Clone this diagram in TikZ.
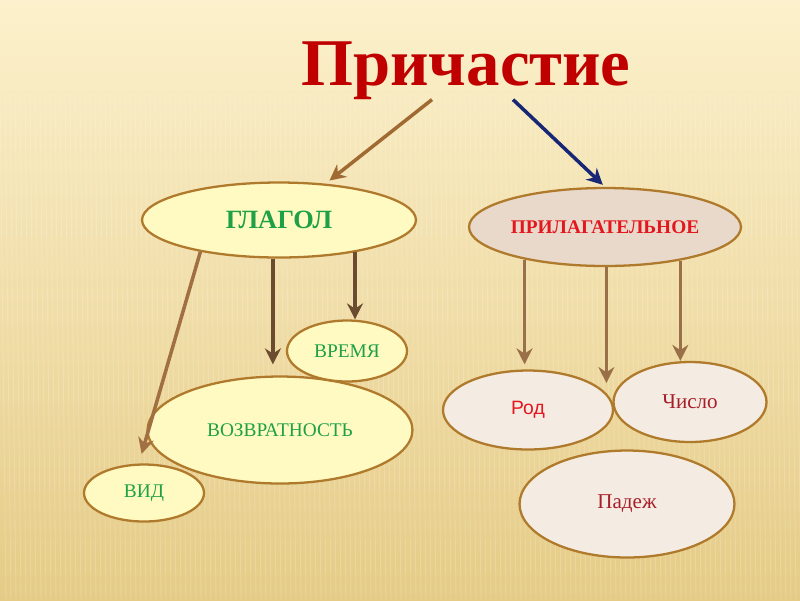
\documentclass[tikz,border=0pt]{standalone}
\usepackage{fontspec}
\setmainfont{Liberation Serif}
\newfontfamily\arialfont{Liberation Sans}
\usepackage{tikz}
\usetikzlibrary{positioning,arrows.meta,shapes.geometric,calc}
\usepackage{xcolor}
\definecolor{bgtop}{RGB}{252,241,204}
\definecolor{bgmid}{RGB}{246,229,180}
\definecolor{bgbot}{RGB}{229,203,134}
\definecolor{rim}{RGB}{176,122,44}
\definecolor{verbfill}{RGB}{255,250,194}
\definecolor{adjfill}{RGB}{232,217,202}
\definecolor{featfill}{RGB}{244,236,226}
\definecolor{verbgreen}{RGB}{30,160,70}
\definecolor{adjred}{RGB}{228,22,30}
\definecolor{darkred}{RGB}{168,30,40}
\definecolor{titlered}{RGB}{192,0,0}
\definecolor{brownA}{RGB}{160,106,50}
\definecolor{brownB}{RGB}{108,76,46}
\definecolor{brownC}{RGB}{160,112,66}
\definecolor{brownD}{RGB}{154,112,72}
\definecolor{navy}{RGB}{24,38,118}

\begin{document}
\begin{tikzpicture}[
    x=0.02cm, y=-0.02cm,
    oval/.style={ellipse, draw=rim, line width=1.3pt, inner sep=0pt, align=center},
    verb/.style={oval, fill=verbfill, text=verbgreen, font=\fontsize{11}{13}\selectfont},
    feat/.style={oval, fill=featfill, text=darkred, font=\fontsize{12}{14}\selectfont},
    link/.style={-{Stealth[length=3.2mm, width=3.2mm]}, line width=2pt}
]

% Background
\useasboundingbox (0,0) rectangle (800,600);
\shade[top color=bgtop, middle color=bgmid, bottom color=bgbot] (0,0) rectangle (800,600);
\foreach \sx in {0,5,...,800}
    \draw[white, opacity=0.18, line width=0.5pt] (\sx,95) -- (\sx+6,600);

% Title
\node[font=\bfseries\fontsize{38}{44}\selectfont, text=titlered, inner sep=0pt, anchor=base] (prich) at (466,85) {Причастие};

% Verb side
\node[oval, fill=verbfill, text=verbgreen, font=\bfseries\fontsize{15}{17}\selectfont, minimum width=5.48cm, minimum height=1.5cm] (glagol) at (279,220) {ГЛАГОЛ};
\node[verb, minimum width=5.3cm, minimum height=2.14cm] (vozvr) at (280,430) {ВОЗВРАТНОСТЬ};
\node[verb, minimum width=2.4cm, minimum height=1.22cm] (vremya) at (347,351) {ВРЕМЯ};
\node[verb, minimum width=2.4cm, minimum height=1.14cm] (vid) at (144,493) {ВИД};

% Adjective side
\node[oval, fill=adjfill, text=adjred, font=\bfseries\fontsize{11}{13}\selectfont, minimum width=5.44cm, minimum height=1.56cm] (prilag) at (605,227) {ПРИЛАГАТЕЛЬНОЕ};
\node[feat, text=adjred, font=\arialfont\fontsize{11}{13}\selectfont, minimum width=3.4cm, minimum height=1.58cm] (rod) at (528,410) {Род};
\node[feat, minimum width=3.06cm, minimum height=1.6cm] (chislo) at (690,402) {Число};
\node[feat, minimum width=4.3cm, minimum height=2.14cm] (padezh) at (627,504) {Падеж};
\coordinate (split) at (607,383);

% Arrows from title
\draw[link, brownA, shorten >=0.1cm] ($(prich.south)+(-34,0)$) -- (glagol.38);
\draw[link, navy, shorten >=0.06cm] ($(prich.south)+(47,0)$) -- (prilag.north);

% Verb arrows
\draw[link, brownC, shorten >=0.2cm] (glagol.-158) -- (vid.100);
\draw[link, brownB, shorten >=0.22cm] (glagol.-99) -- (glagol.-99 |- vozvr.north);
\draw[link, brownB] (glagol.-23) -- (glagol.-23 |- vremya.north);

% Adjective arrows
\draw[link, brownD, shorten >=0.1cm] (prilag.-158) -- (prilag.-158 |- rod.north);
\draw[link, brownD] (prilag.-88) -- (prilag.-88 |- split);
\draw[link, brownD] (prilag.-24) -- (prilag.-24 |- chislo.north);

\end{tikzpicture}
\end{document}
